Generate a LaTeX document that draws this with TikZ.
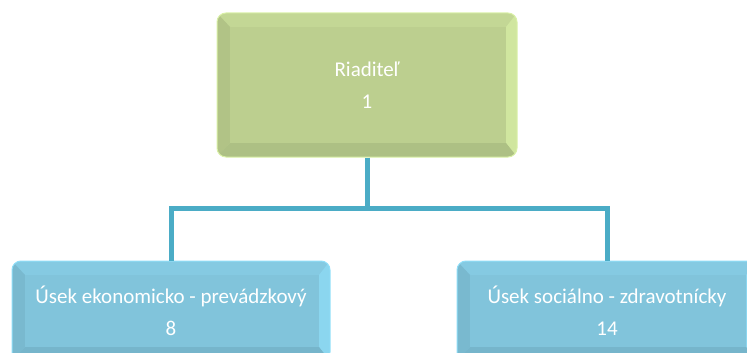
\documentclass[tikz,border=0pt]{standalone}
\usepackage{fontspec}
\setmainfont{Carlito}
\usetikzlibrary{positioning}
\definecolor{greenface}{HTML}{BCCF8F}
\definecolor{greenlight}{HTML}{D9F0A6}
\definecolor{greendark}{HTML}{A3B57C}
\definecolor{blueface}{HTML}{81C4DB}
\definecolor{bluelight}{HTML}{90DEF8}
\definecolor{bluedark}{HTML}{6FABC0}
\definecolor{linkblue}{HTML}{4BACC6}
\tikzset{
  bevelbox/.style n args={3}{rounded corners=9pt, inner sep=0pt, align=center,
    text=white, font=\fontsize{21}{32}\selectfont, draw=#2, line width=1pt,
    path picture={
      \fill[#1!75!#2, sharp corners] (path picture bounding box.south west) rectangle (path picture bounding box.north east);
      \fill[#2!70!#1, sharp corners] (path picture bounding box.north east)
        -- ([xshift=-11pt,yshift=-14pt]path picture bounding box.north east)
        -- ([xshift=-11pt,yshift=14pt]path picture bounding box.south east)
        -- (path picture bounding box.south east) -- cycle;
      \fill[#3!45!#1, sharp corners] (path picture bounding box.north west)
        -- ([xshift=13pt,yshift=-14pt]path picture bounding box.north west)
        -- ([xshift=13pt,yshift=14pt]path picture bounding box.south west)
        -- (path picture bounding box.south west) -- cycle;
      \fill[#3!60!#1, sharp corners] (path picture bounding box.south west)
        -- ([xshift=13pt,yshift=14pt]path picture bounding box.south west)
        -- ([xshift=-11pt,yshift=14pt]path picture bounding box.south east)
        -- (path picture bounding box.south east) -- cycle;
      \fill[#1, sharp corners] ([xshift=13pt,yshift=-14pt]path picture bounding box.north west)
        rectangle ([xshift=-11pt,yshift=14pt]path picture bounding box.south east);
    }},
  greenbox/.style={bevelbox={greenface}{greenlight}{greendark}},
  bluebox/.style={bevelbox={blueface}{bluelight}{bluedark}},
  link/.style={draw=linkblue, line width=5pt}
}
\begin{document}
\begin{tikzpicture}[x=1pt,y=-1pt]
  \useasboundingbox (0,0) rectangle (747,353);
  \clip (0,0) rectangle (747,353);

  % nodes
  \node[greenbox, minimum width=300pt, minimum height=144pt] (boss) at (367,85)
    {Riaditeľ\\1};
  \node[bluebox, minimum width=318pt, minimum height=100pt] (econ) at (171,311)
    {Úsek ekonomicko - prevádzkový\\8};
  \node[bluebox, minimum width=300pt, minimum height=100pt] (social) at (607,311)
    {Úsek sociálno - zdravotnícky\\14};

  % links
  \coordinate (fork) at (367,208);
  \draw[link] (boss.south) -- (fork);
  \draw[link] (fork) -| (econ.north);
  \draw[link] (fork) -| (social.north);
\end{tikzpicture}
\end{document}
